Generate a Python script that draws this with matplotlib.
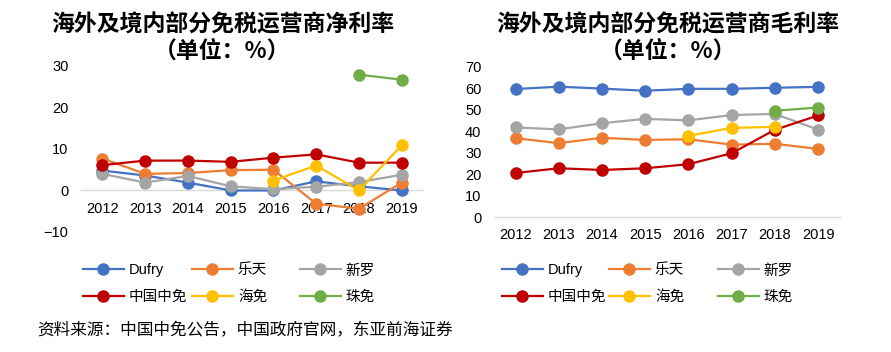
import numpy as np
import matplotlib
matplotlib.use('Agg')
import matplotlib.pyplot as plt
from matplotlib.lines import Line2D

plt.rcParams['font.family'] = ['Liberation Sans', 'Noto Sans CJK SC', 'DejaVu Sans']

years = ['2012', '2013', '2014', '2015', '2016', '2017', '2018', '2019']
names = ['Dufry', '乐天', '新罗', '中国中免', '海免', '珠免']
colors = ['#4472C4', '#ED7D31', '#A5A5A5', '#C00000', '#FFC000', '#70AD47']
nan = np.nan

# net margin (%)
net_dufry = [4.8, 3.6, 1.9, 0.0, 0.0, 2.2, 1.0, 0.0]
net_lotte = [7.7, 4.0, 4.2, 4.9, 5.0, -3.2, -4.4, 1.9]
net_shilla = [4.0, 1.9, 3.5, 1.0, 0.3, 0.9, 2.0, 3.8]
net_cdfg = [6.1, 7.2, 7.2, 6.9, 7.9, 8.7, 6.7, 6.7]
net_hainan = [nan, nan, nan, nan, 2.4, 6.0, 0.0, 10.9]
net_zhuhai = [nan, nan, nan, nan, nan, nan, 27.9, 26.7]

# gross margin (%)
gross_dufry = [59.6, 60.7, 59.8, 58.8, 59.7, 59.7, 60.2, 60.6]
gross_lotte = [36.7, 34.4, 36.9, 35.9, 36.2, 33.7, 34.1, 31.7]
gross_shilla = [41.7, 40.8, 43.7, 45.7, 45.0, 47.5, 48.0, 40.7]
gross_cdfg = [20.5, 22.7, 21.9, 22.7, 24.6, 29.7, 40.6, 47.3]
gross_hainan = [nan, nan, nan, nan, 37.8, 41.5, 42.0, nan]
gross_zhuhai = [nan, nan, nan, nan, nan, nan, 49.5, 51.0]

net = [net_dufry, net_lotte, net_shilla, net_cdfg, net_hainan, net_zhuhai]
gross = [gross_dufry, gross_lotte, gross_shilla, gross_cdfg, gross_hainan, gross_zhuhai]

fig = plt.figure(figsize=(8.91, 3.52), dpi=100)
ax1 = fig.add_axes([0.0909, 0.341, 0.384, 0.4716])
ax2 = fig.add_axes([0.5544, 0.3835, 0.388, 0.427])

x = np.arange(len(years))


def style_ax(ax, ylim, yticks):
    ax.set_xlim(-0.5, len(years) - 0.5)
    ax.set_ylim(*ylim)
    ax.set_yticks(yticks)
    ax.set_xticks(x)
    ax.set_xticklabels(years)
    for s in ['top', 'right', 'left']:
        ax.spines[s].set_visible(False)
    ax.spines['bottom'].set_position(('data', 0))
    ax.spines['bottom'].set_color('#D9D9D9')
    ax.spines['bottom'].set_linewidth(1.0)
    ax.tick_params(axis='both', length=0, labelsize=10.5, colors='#000000')
    ax.tick_params(axis='x', pad=8)
    ax.tick_params(axis='y', pad=9)
    ax.patch.set_alpha(0)


for vals, c in zip(net, colors):
    ax1.plot(x, vals, color=c, lw=1.6, marker='o', ms=8, zorder=3)
style_ax(ax1, (-10, 30), [-10, 0, 10, 20, 30])

for vals, c in zip(gross, colors):
    ax2.plot(x, vals, color=c, lw=1.6, marker='o', ms=8, zorder=3)
style_ax(ax2, (0, 70), np.arange(0, 71, 10))

tfont = ['Noto Sans CJK SC', 'DejaVu Sans']
fig.text(0.2497, 1 - 25 / 352, '海外及境内部分免税运营商净利率', ha='center', va='center',
         fontsize=16.5, fontweight='bold', family=tfont)
fig.text(0.2497, 1 - 51 / 352, '（单位：%）', ha='center', va='center',
         fontsize=16.5, fontweight='bold', family=tfont)
fig.text(0.7497, 1 - 25 / 352, '海外及境内部分免税运营商毛利率', ha='center', va='center',
         fontsize=16.5, fontweight='bold', family=tfont)
fig.text(0.7497, 1 - 51 / 352, '（单位：%）', ha='center', va='center',
         fontsize=16.5, fontweight='bold', family=tfont)

# legends: three columns of two rows under each chart
cols = [(0, 3), (1, 4), (2, 5)]
lx_left = [83, 192, 300]
lx_right = [502, 609, 718]
for xs in (lx_left, lx_right):
    for (a, b), px in zip(cols, xs):
        handles = [Line2D([], [], color=colors[i], lw=1.6, marker='o', ms=8) for i in (a, b)]
        leg = fig.legend(handles, [names[a], names[b]], loc='center left',
                         bbox_to_anchor=(px / 891, 1 - 283.5 / 352),
                         bbox_transform=fig.transFigure, frameon=False,
                         fontsize=10.5, handlelength=2.8, handletextpad=0.35,
                         labelspacing=0.85, borderpad=0, borderaxespad=0)

fig.text(37 / 891, 1 - 331 / 352, '资料来源：中国中免公告，中国政府官网，东亚前海证券',
         ha='left', va='center', fontsize=12, family=tfont)

fig.savefig('out.png', dpi=100)
